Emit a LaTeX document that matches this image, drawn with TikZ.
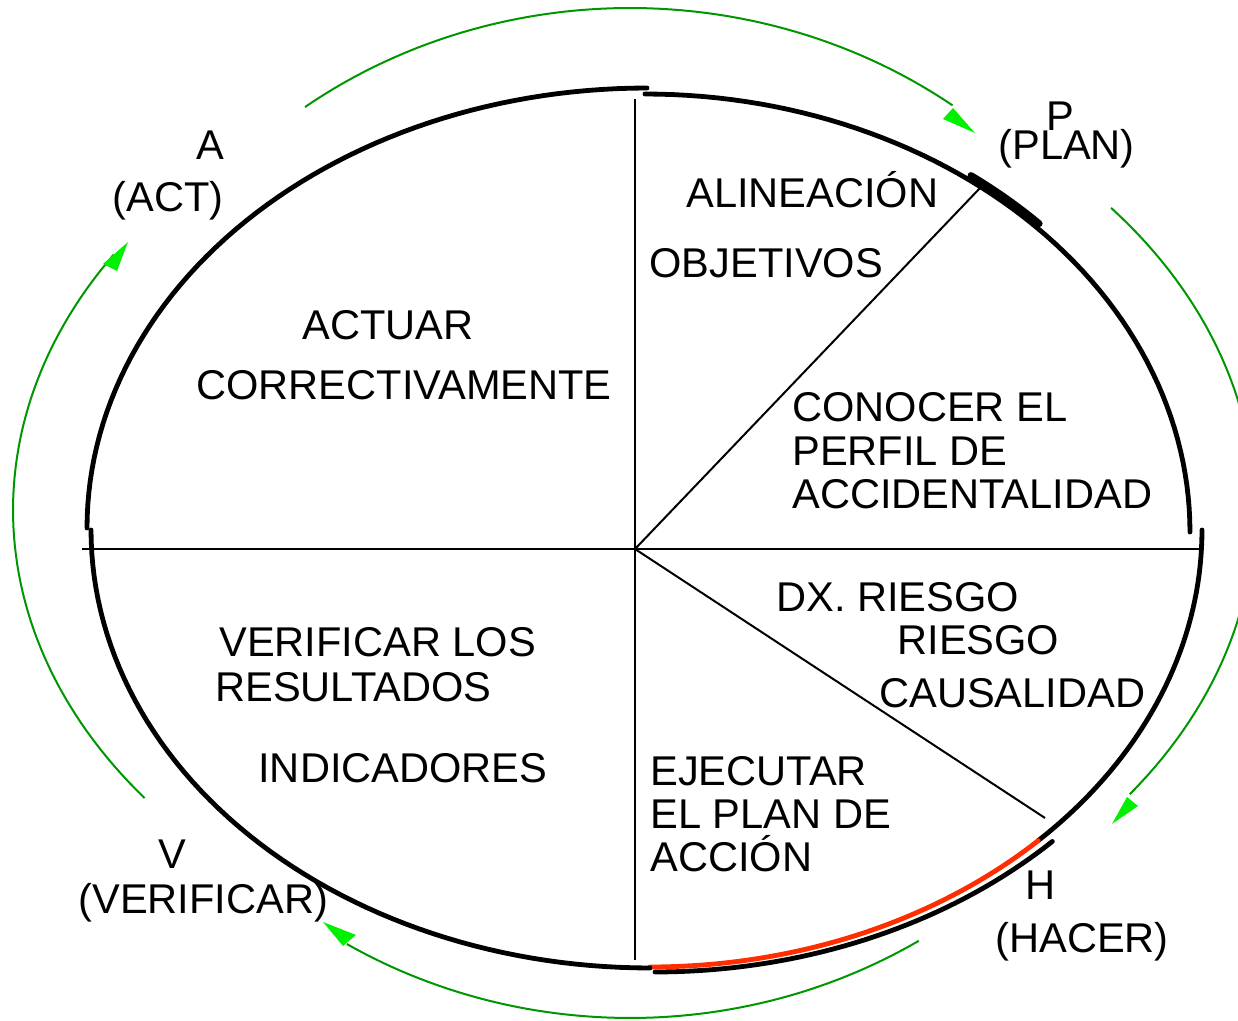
\documentclass[tikz,border=0pt]{standalone}
\usepackage{fontspec}
\setmainfont{Liberation Sans}
\definecolor{gline}{RGB}{0,150,0}
\definecolor{ghead}{RGB}{0,240,0}
\definecolor{redarc}{RGB}{255,45,0}
\begin{document}
\begin{tikzpicture}[x=0.5pt,y=-0.5pt,
  arcblack/.style={line width=2.4pt,line cap=round},
  arcthick/.style={line width=3.4pt,line cap=round},
  arcred/.style={draw=redarc,line width=2.4pt,line cap=round},
  thinline/.style={line width=1pt},
  greenline/.style={draw=gline,line width=1pt},
  greenhead/.style={fill=ghead,draw=none},
  lbl/.style={font=\fontsize{20.8}{24}\selectfont,anchor=base west,inner sep=0pt}]
\useasboundingbox (0,0) rectangle (1238,1021);
\clip (0,0) rectangle (1238,1021);
% black quarter arcs
\draw[arcblack] plot[domain=180:270,samples=60,variable=\t] ({647+560*cos(\t)},{528+440*sin(\t)});
\draw[arcblack] plot[domain=270:360,samples=60,variable=\t] ({645+545*cos(\t)},{532+438*sin(\t)});
\draw[arcblack] plot[domain=0:45.3,samples=40,variable=\t] ({650+552*cos(\t)},{530+437*sin(\t)});
\draw[arcred] plot[domain=45.3:90,samples=40,variable=\t] ({650+552*cos(\t)},{530+437*sin(\t)});
\draw[arcblack] plot[domain=44.8:90,samples=40,variable=\t] ({655+560*cos(\t)},{530+442*sin(\t)});
\draw[arcblack] plot[domain=90:180,samples=60,variable=\t] ({650+559*cos(\t)},{530+438*sin(\t)});
\draw[arcthick] plot[domain=306.5:316,samples=15,variable=\t] ({645+548*cos(\t)},{530+441*sin(\t)});
% thin lines
\coordinate (O) at (635,549);
\coordinate (vt) at (635,99);
\coordinate (vb) at (635,960);
\coordinate (hl) at (82,549);
\coordinate (hr) at (1200,549);
\coordinate (du) at (981,187);
\coordinate (dd) at (1045,818);
\draw[thinline] (vt) -- (vb);
\draw[thinline] (hl) -- (hr);
\draw[thinline] (O) -- (du);
\draw[thinline] (O) -- (dd);
% green arcs
\draw[greenline] plot[domain=233.4:306.3,samples=60,variable=\t] ({630+545*cos(\t)},{510+502*sin(\t)});
\fill[greenhead] (943,119) -- (953,108) -- (975,133) -- cycle;
\draw[greenline] plot[domain=-40:37.2,samples=60,variable=\t] ({640+615*cos(\t)},{510+470*sin(\t)});
\fill[greenhead] (1127,797) -- (1138,806) -- (1112,824) -- cycle;
\draw[greenline] plot[domain=58:121.3,samples=60,variable=\t] ({630+545*cos(\t)},{510+508*sin(\t)});
\fill[greenhead] (356,935) -- (343,946) -- (323,922) -- cycle;
\draw[greenline] plot[domain=142.2:212.9,samples=60,variable=\t] ({640+627*cos(\t)},{510+470*sin(\t)});
\fill[greenhead] (103,264) -- (117,271) -- (128,242) -- cycle;
% labels
\node[lbl] (a1) at (196,160) {A};
\node[lbl] (a2) at (112,212) {(ACT)};
\node[lbl] (p1) at (1046,131) {P};
\node[lbl] (p2) at (998,160) {(PLAN)};
\node[lbl] (t1) at (686,208) {ALINEACIÓN};
\node[lbl] (t2) at (649,278) {OBJETIVOS};
\node[lbl] (t3) at (302,340) {ACTUAR};
\node[lbl] (t4) at (196,400) {CORRECTIVAMENTE};
\node[lbl] (t5) at (792,422) {CONOCER EL};
\node[lbl] (t6) at (792,466) {PERFIL DE};
\node[lbl] (t7) at (792,509) {ACCIDENTALIDAD};
\node[lbl] (t8) at (776,612) {DX. RIESGO};
\node[lbl] (t9) at (897,654) {RIESGO};
\node[lbl] (t10) at (879,707) {CAUSALIDAD};
\node[lbl] (t11) at (219,656) {VERIFICAR LOS};
\node[lbl] (t12) at (215,702) {RESULTADOS};
\node[lbl] (t13) at (258,782) {INDICADORES};
\node[lbl] (t14) at (650,785) {EJECUTAR};
\node[lbl] (t15) at (650,828) {EL PLAN DE};
\node[lbl] (t16) at (650,871) {ACCIÓN};
\node[lbl] (v1) at (158,868) {V};
\node[lbl] (v2) at (78,913) {(VERIFICAR)};
\node[lbl] (h1) at (1025,899) {H};
\node[lbl] (h2) at (995,952) {(HACER)};
\end{tikzpicture}
\end{document}
